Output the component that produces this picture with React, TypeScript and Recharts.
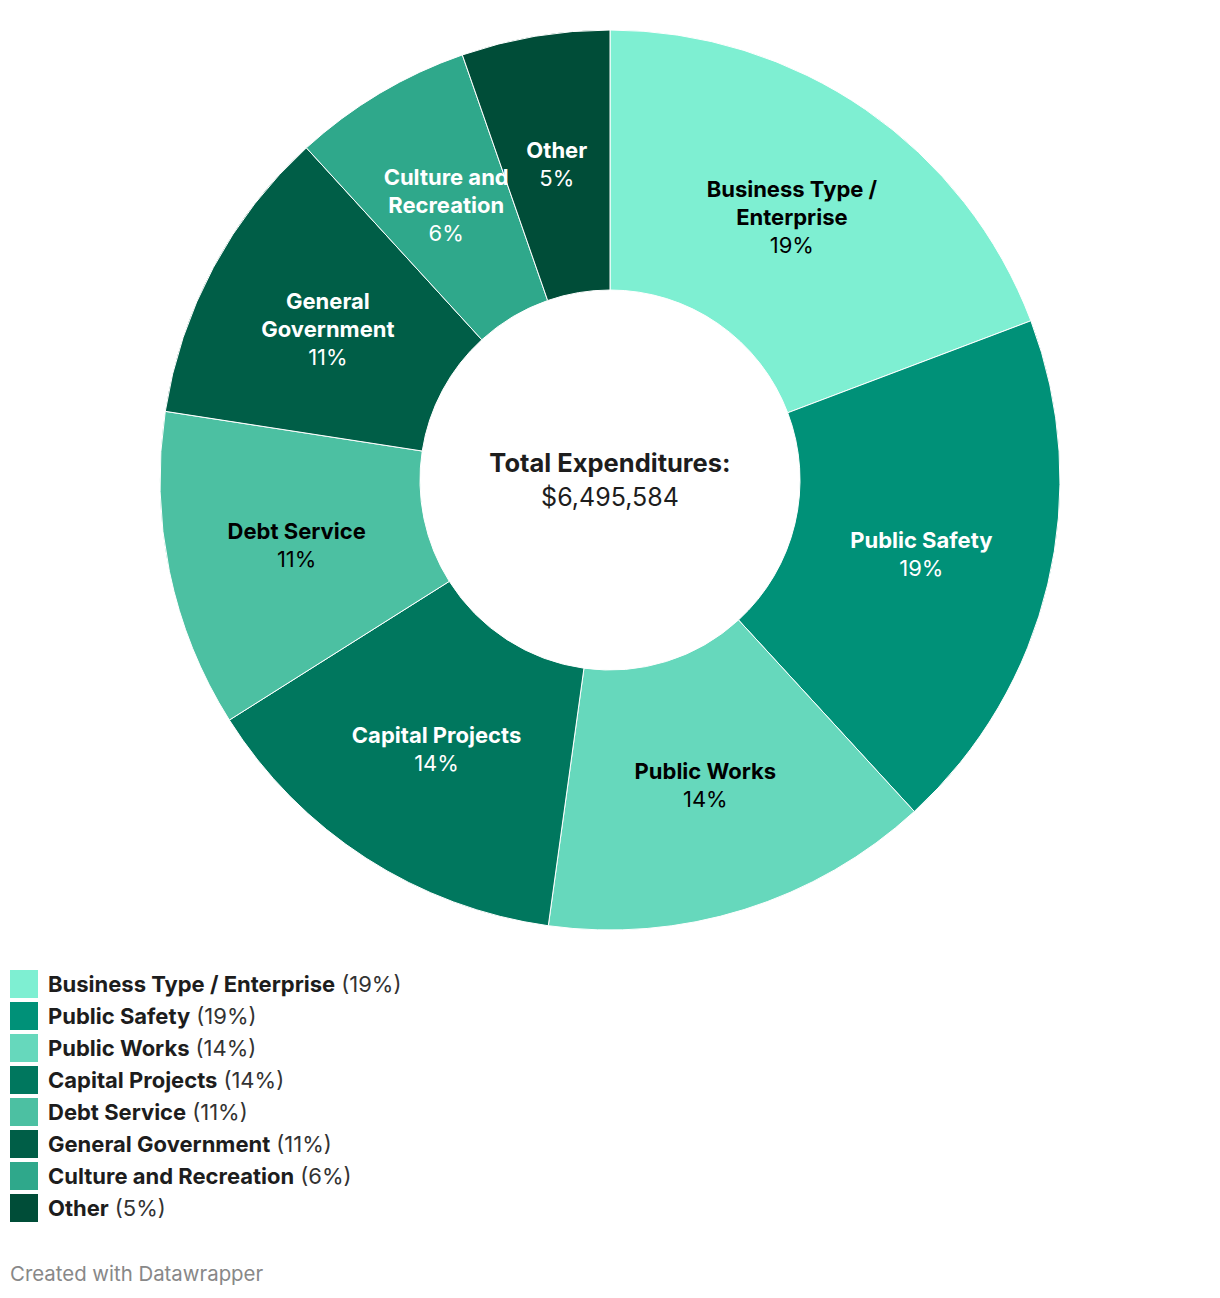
import { Cell, Pie, PieChart } from 'recharts'

const CATEGORIES = [
  'Business Type / Enterprise',
  'Public Safety',
  'Public Works',
  'Capital Projects',
  'Debt Service',
  'General Government',
  'Culture and Recreation',
  'Other',
]
const VALUES = [1250000, 1230000, 910000, 900000, 740000, 700000, 420000, 345584]
const COLORS = ['#7eefd2', '#009178', '#66d8bc', '#00775e', '#4cc0a2', '#005e47', '#2fa88b', '#004d38']
const DARK_TEXT = [true, false, true, false, true, false, false, false]

const TOTAL = VALUES.reduce((a, b) => a + b, 0)
const FONT = 'Inter, Roboto, "Noto Sans", sans-serif'
const RAD = Math.PI / 180

const data = CATEGORIES.map((name, i) => ({
  name,
  value: VALUES[i],
  pct: Math.round((VALUES[i] / TOTAL) * 100),
}))

// break long names the way the slice labels do
function wrap(text: string, max = 16) {
  const words = text.split(' ')
  const lines: string[] = []
  let cur = ''
  for (const w of words) {
    const next = cur ? cur + ' ' + w : w
    if (next.length > max && cur) {
      lines.push(cur)
      cur = w
    } else {
      cur = next
    }
  }
  if (cur) lines.push(cur)
  return lines
}

function SliceLabel(props: any) {
  const { cx, cy, midAngle, innerRadius, outerRadius, index } = props
  const r = (innerRadius + outerRadius) / 2
  const x = cx + r * Math.cos(-midAngle * RAD)
  const y = cy + r * Math.sin(-midAngle * RAD)
  const lines = wrap(data[index].name)
  const all = [...lines, `${data[index].pct}%`]
  const lh = 28
  const start = y - ((all.length - 1) * lh) / 2
  const fill = DARK_TEXT[index] ? '#000000' : '#ffffff'
  return (
    <g>
      {all.map((t, i) => (
        <text
          key={i}
          x={x}
          y={start + i * lh}
          textAnchor="middle"
          dominantBaseline="central"
          fill={fill}
          fontFamily={FONT}
          fontSize={22}
          fontWeight={i < lines.length ? 700 : 400}
        >
          {t}
        </text>
      ))}
    </g>
  )
}

export default function App() {
  return (
    <div
      style={{
        position: 'absolute',
        left: 0,
        top: 0,
        width: 1220,
        height: 1298,
        background: '#ffffff',
        fontFamily: FONT,
      }}
    >
      <PieChart width={1220} height={960} margin={{ top: 0, right: 0, bottom: 0, left: 0 }}>
        <Pie
          data={data}
          dataKey="value"
          nameKey="name"
          cx={610}
          cy={480}
          innerRadius={190}
          outerRadius={450}
          startAngle={90}
          endAngle={-270}
          stroke="#ffffff"
          strokeWidth={1}
          label={SliceLabel}
          labelLine={false}
          isAnimationActive={false}
        >
          {data.map((d, i) => (
            <Cell key={d.name} fill={COLORS[i]} />
          ))}
        </Pie>
      </PieChart>

      <div
        style={{
          position: 'absolute',
          left: 410,
          width: 400,
          top: 446,
          textAlign: 'center',
          lineHeight: '34px',
          color: '#1d1d1d',
        }}
      >
        <div style={{ fontWeight: 700, fontSize: 25.5 }}>Total Expenditures:</div>
        <div style={{ fontSize: 25 }}>${TOTAL.toLocaleString('en-US')}</div>
      </div>

      <div style={{ position: 'absolute', left: 10, top: 968 }}>
        {data.map((d, i) => (
          <div
            key={d.name}
            style={{ display: 'flex', alignItems: 'center', height: 32, fontSize: 22, color: '#1d1d1d', whiteSpace: 'nowrap' }}
          >
            <div style={{ width: 28, height: 28, background: COLORS[i], marginRight: 10 }} />
            <span style={{ fontWeight: 700 }}>{d.name}</span>
            <span style={{ color: '#333333', marginLeft: 6 }}>({d.pct}%)</span>
          </div>
        ))}
      </div>

      <div style={{ position: 'absolute', left: 10, top: 1261, fontSize: 20.4, color: '#888888' }}>
        Created with Datawrapper
      </div>
    </div>
  )
}
